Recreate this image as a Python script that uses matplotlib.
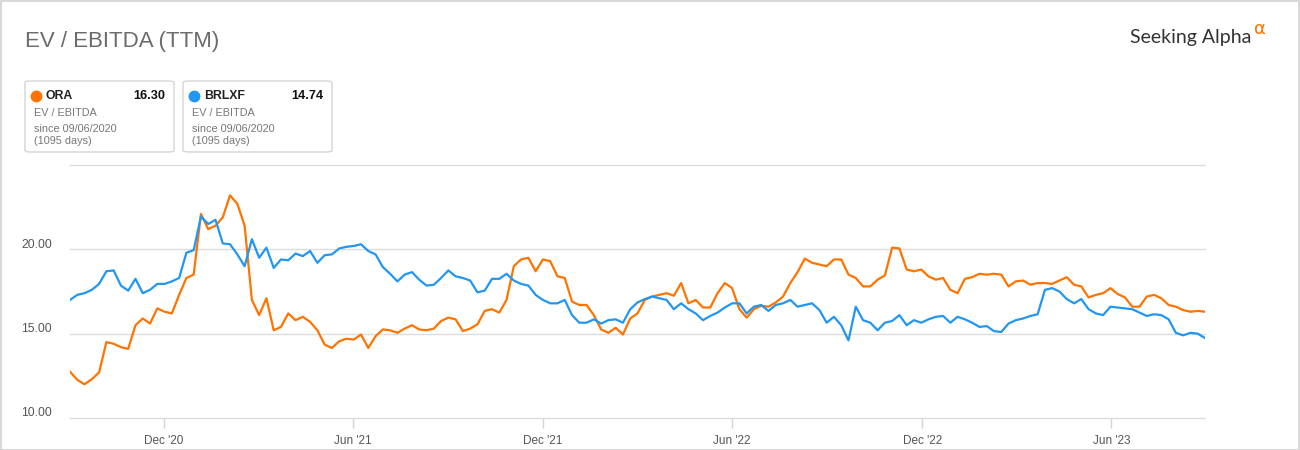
import numpy as np
import pandas as pd
import matplotlib
matplotlib.use("Agg")
import matplotlib.pyplot as plt
import matplotlib.dates as mdates
from matplotlib.patches import FancyBboxPatch, Rectangle
from matplotlib.lines import Line2D
from matplotlib.transforms import ScaledTranslation

# weekly EV/EBITDA readings, starting early Sep 2020
start_date = "2020-09-02"
ora_values = [
    12.75, 12.26, 12.0, 12.3, 12.7, 14.5, 14.4, 14.2, 14.1, 15.5,
    15.9, 15.6, 16.5, 16.3, 16.2, 17.3, 18.3, 18.5, 22.1, 21.2,
    21.4, 21.9, 23.2, 22.7, 21.4, 17.0, 16.1, 17.1, 15.2, 15.4,
    16.2, 15.8, 16.0, 15.7, 15.2, 14.35, 14.15, 14.55, 14.7, 14.65,
    14.95, 14.15, 14.85, 15.25, 15.2, 15.05, 15.3, 15.5, 15.25, 15.2,
    15.3, 15.75, 15.95, 15.85, 15.15, 15.3, 15.55, 16.35, 16.45, 16.25,
    17.0, 19.0, 19.4, 19.5, 18.7, 19.4, 19.3, 18.4, 18.3, 16.9,
    16.7, 16.7, 16.1, 15.25, 15.05, 15.35, 14.95, 15.9, 16.2, 17.0,
    17.2, 17.3, 17.4, 17.25, 18.0, 16.8, 17.0, 16.55, 16.55, 17.4,
    18.0, 17.7, 16.45, 15.95, 16.45, 16.65, 16.6, 16.85, 17.2, 18.0,
    18.65, 19.45, 19.2, 19.1, 19.0, 19.4, 19.4, 18.5, 18.3, 17.8,
    17.8, 18.2, 18.45, 20.1, 20.05, 18.8, 18.7, 18.8, 18.4, 18.2,
    18.3, 17.6, 17.4, 18.25, 18.35, 18.55, 18.5, 18.55, 18.5, 17.8,
    18.1, 18.15, 17.9, 18.0, 18.0, 17.95, 18.15, 18.35, 17.9, 17.8,
    17.15, 17.3, 17.4, 17.7, 17.35, 17.15, 16.6, 16.6, 17.2, 17.3,
    17.1, 16.7, 16.6, 16.4, 16.3, 16.35, 16.30,
]
brlxf_values = [
    17.0, 17.3, 17.4, 17.6, 17.95, 18.7, 18.75, 17.85, 17.55, 18.25,
    17.4, 17.6, 17.95, 17.95, 18.1, 18.3, 19.8, 19.95, 21.95, 21.5,
    21.75, 20.35, 20.3, 19.7, 19.0, 20.6, 19.5, 20.1, 18.9, 19.4,
    19.35, 19.75, 19.6, 19.9, 19.2, 19.65, 19.7, 20.05, 20.15, 20.2,
    20.3, 19.9, 19.7, 18.95, 18.55, 18.1, 18.5, 18.65, 18.2, 17.85,
    17.9, 18.3, 18.75, 18.4, 18.3, 18.15, 17.45, 17.55, 18.25, 18.25,
    18.55, 18.15, 17.95, 17.85, 17.3, 17.0, 16.8, 16.8, 17.0, 16.1,
    15.65, 15.65, 15.85, 15.6, 15.8, 15.85, 15.65, 16.45, 16.85, 17.05,
    17.2, 17.1, 17.0, 16.45, 16.8, 16.45, 16.2, 15.8, 16.05, 16.25,
    16.55, 16.8, 16.8, 16.2, 16.6, 16.7, 16.35, 16.7, 16.8, 17.0,
    16.6, 16.7, 16.8, 16.4, 15.65, 16.0, 15.5, 14.6, 16.6, 15.8,
    15.65, 15.2, 15.65, 15.75, 16.1, 15.5, 15.8, 15.65, 15.85, 16.0,
    16.05, 15.65, 16.0, 15.85, 15.65, 15.4, 15.45, 15.15, 15.1, 15.6,
    15.8, 15.9, 16.05, 16.15, 17.6, 17.7, 17.5, 17.05, 16.8, 17.05,
    16.45, 16.2, 16.1, 16.6, 16.55, 16.5, 16.45, 16.25, 16.05, 16.15,
    16.1, 15.85, 15.05, 14.9, 15.05, 15.0, 14.74,
]
dates = pd.date_range(start_date, periods=len(ora_values), freq="7D")

tick_dates = ["2020-12-01", "2021-06-01", "2021-12-01", "2022-06-01", "2022-12-01", "2023-06-01"]
y_ticks = [10, 15, 20, 25]
y_tick_labels = ["10.00", "15.00", "20.00", ""]

ORANGE = "#ff7300"
BLUE = "#2196f3"
W, H = 1300, 450

def fx(px):
    return px / W

def fy(py):
    return 1 - py / H

plt.rcParams["font.family"] = ["Liberation Sans", "DejaVu Sans"]

fig = plt.figure(figsize=(13, 4.5), dpi=100)
fig.patch.set_facecolor("white")
fig.add_artist(Rectangle((0.0005, 0.001), 0.999, 0.997, transform=fig.transFigure,
                         fill=False, edgecolor="#d9d9d9", lw=1.5))

ax = fig.add_axes([fx(70), fy(418), fx(1135), 253 / H])
ax.plot(dates, ora_values, color=ORANGE, lw=1.6, zorder=3)
ax.plot(dates, brlxf_values, color=BLUE, lw=1.6, zorder=3)

ax.set_xlim(dates[0], dates[-1])
ax.set_ylim(10, 25)
ax.set_yticks(y_ticks)
ax.set_yticklabels(y_tick_labels)
ax.set_xticks(pd.to_datetime(tick_dates))
ax.xaxis.set_major_formatter(mdates.DateFormatter("%b '%y"))
for s in ax.spines.values():
    s.set_visible(False)
ax.grid(axis="y", color="#dcdcdc", lw=1)
for gl in ax.get_ygridlines():
    gl.set_clip_on(False)
ax.tick_params(axis="y", length=0, pad=13, labelsize=8.7, labelcolor="#555555")
ax.tick_params(axis="x", length=7, width=1, color="#d5d5d5", pad=5,
               labelsize=8.5, labelcolor="#555555")
for lab in ax.get_yticklabels():
    lab.set_transform(lab.get_transform() + ScaledTranslation(0, 6 / 100, fig.dpi_scale_trans))

# title and logo
fig.text(fx(25), fy(42), "EV / EBITDA (TTM)", fontsize=16, color="#6b6b6b",
         va="center", ha="left")
fig.text(fx(1251), fy(38), "Seeking Alpha", fontsize=14, color="#333333",
         va="center", ha="right", family=["Lato", "DejaVu Sans"])
fig.text(fx(1254), fy(29), "\u03b1", fontsize=13, color=ORANGE,
         va="center", ha="left", family=["DejaVu Sans"])

# legend cards
cards = [("ORA", "16.30", ORANGE, 25), ("BRLXF", "14.74", BLUE, 183)]
for name, last, col, x0 in cards:
    fig.add_artist(FancyBboxPatch((fx(x0), fy(152)), fx(149), 71 / H,
                                  boxstyle="round,pad=0,rounding_size=0.004",
                                  transform=fig.transFigure, fill=False,
                                  edgecolor="#d5d5d5", lw=1))
    fig.add_artist(Line2D([fx(x0 + 11)], [fy(96)], marker="o", ms=7.5, color=col,
                          transform=fig.transFigure))
    fig.text(fx(x0 + 21), fy(96), name, fontsize=8.8, weight="bold", color="#222222",
             va="center", ha="left")
    fig.text(fx(x0 + 140), fy(96), last, fontsize=9.2, weight="bold", color="#111111",
             va="center", ha="right")
    fig.text(fx(x0 + 9), fy(113), "EV / EBITDA", fontsize=7.8, color="#777777",
             va="center", ha="left")
    fig.text(fx(x0 + 9), fy(129), "since 09/06/2020", fontsize=7.8, color="#777777",
             va="center", ha="left")
    fig.text(fx(x0 + 9), fy(141), "(1095 days)", fontsize=7.8, color="#777777",
             va="center", ha="left")

fig.savefig("out.png", dpi=100)
